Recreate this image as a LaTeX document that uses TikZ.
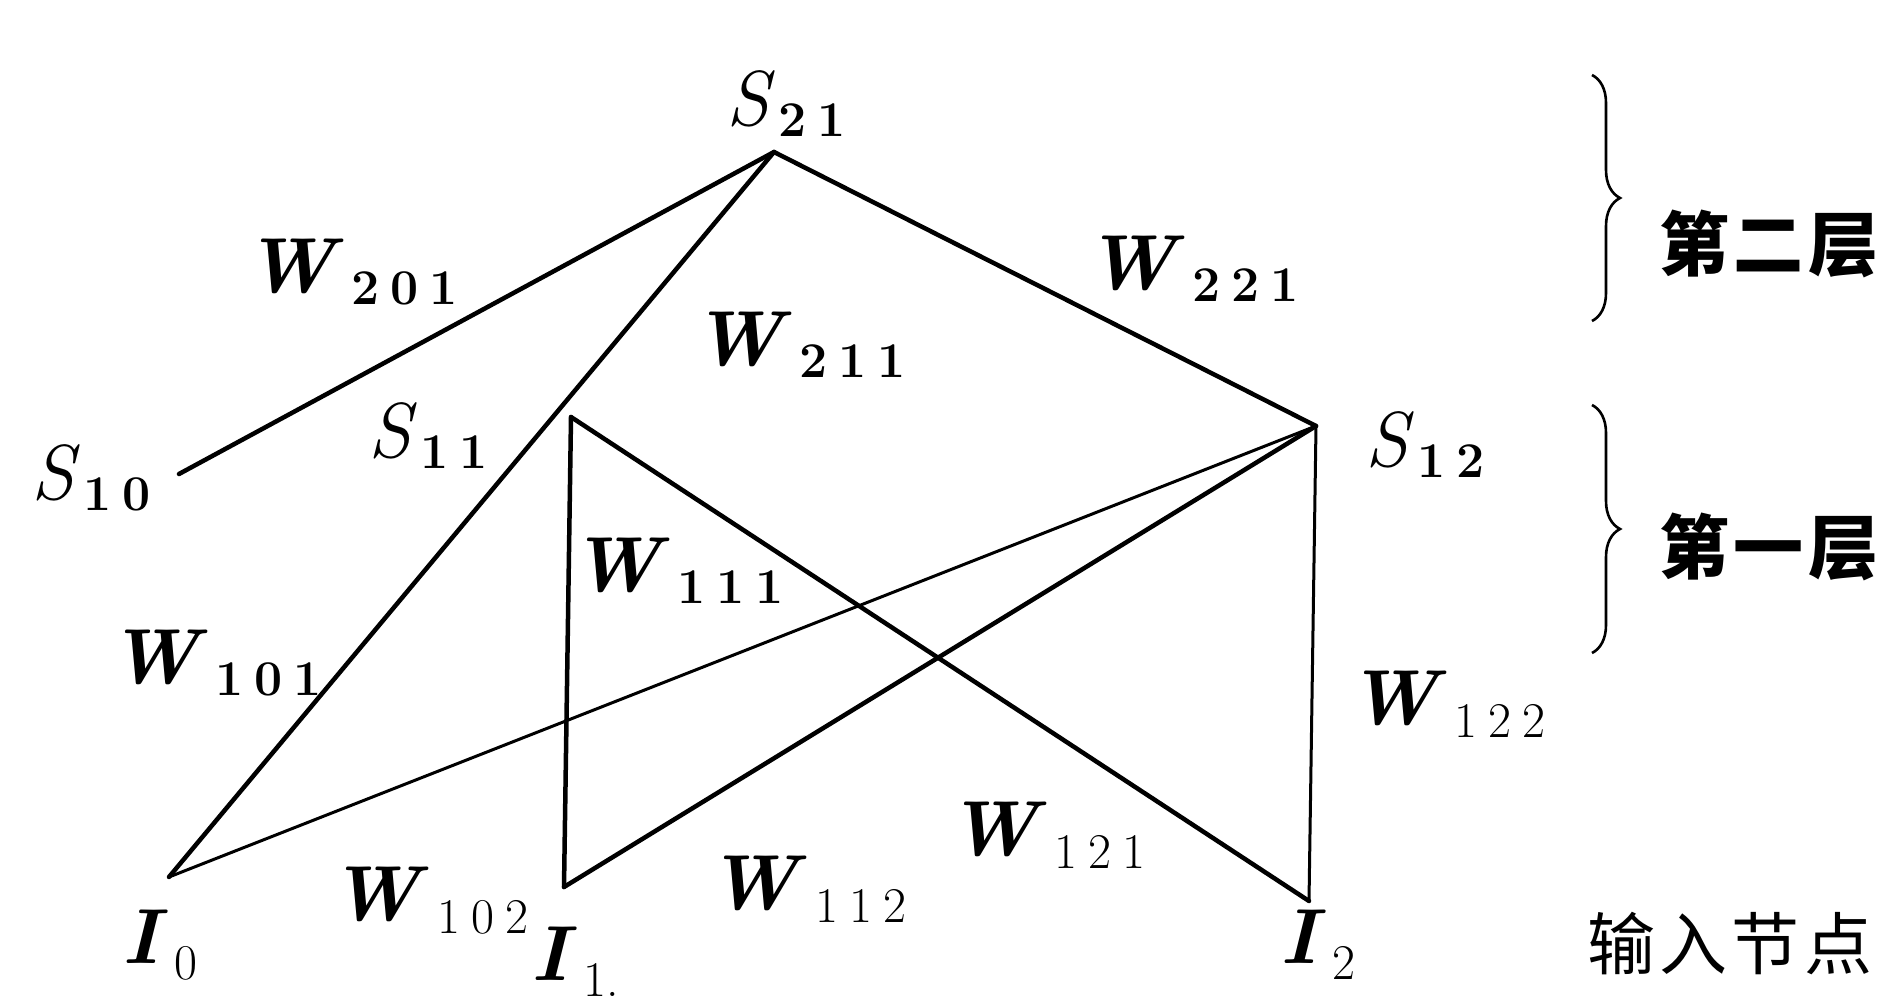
\documentclass[tikz,border=0pt]{standalone}
\usepackage{fontspec}
\newfontfamily\cjk[LetterSpace=6]{Noto Sans CJK SC}
\usetikzlibrary{decorations.pathreplacing}
\newcommand\dsp{\hspace{0.22em}}
\newcommand\wlabel[1]{\textbf{\textit{W}}\hspace{0.1em}\raisebox{-0.15em}{\fontsize{50}{50}\selectfont\bfseries #1}}
\newcommand\wlabelthin[1]{\textbf{\textit{W}}\hspace{0.1em}\raisebox{-0.17em}{\fontsize{50}{50}\selectfont #1}}
\newcommand\slabel[1]{\textit{S}\hspace{0.04em}\raisebox{-0.14em}{\fontsize{50}{50}\selectfont\bfseries #1}}
\newcommand\ilabel[1]{\textbf{\textit{I}}\hspace{0.08em}\raisebox{-0.2em}{\fontsize{50}{50}\selectfont #1}}
\begin{document}
\begin{tikzpicture}[x=1pt,y=-1pt]
\useasboundingbox[fill=white] (0,0) rectangle (1897,1008);
\tikzset{
  wire/.style={line width=4.5pt, line cap=round, line join=round},
  thinwire/.style={line width=3pt, line cap=round},
  lab/.style={inner sep=0pt, font=\fontsize{78}{80}\selectfont},
  cjklab/.style={inner sep=0pt, font=\fontsize{68}{70}\selectfont\cjk},
  bracestyle/.style={line width=2.6pt, decorate, decoration={brace, amplitude=28pt}},
}
% junction points
\coordinate (s21) at (774,152);
\coordinate (s10) at (179,474);
\coordinate (s11) at (571,417);
\coordinate (s12) at (1316,426);
\coordinate (i0) at (169,877);
\coordinate (i1) at (564,887);
\coordinate (i2) at (1309,901);
% connectors
\draw[wire] (s21) -- (s10);
\draw[wire] (s21) -- (i0);
\draw[wire] (s21) -- (s12);
\draw[wire] (s11) -- (i1);
\draw[wire] (s11) -- (i2);
\draw[thinwire] (s12) -- (i0);
\draw[wire] (s12) -- (i1);
\draw[thinwire] (s12) -- (i2);
% node labels
\node[lab] (ls21) at (786,104) {\slabel{2\dsp 1}};
\node[lab] (ls10) at (91,478) {\slabel{1\dsp 0}};
\node[lab] (ls11) at (428,436) {\slabel{1\dsp 1}};
\node[lab] (ls12) at (1425,445) {\slabel{1\dsp 2}};
\node[lab] (li0) at (160,945) {\ilabel{0}};
\node[lab] (li1) at (575,962) {\ilabel{1.}};
\node[lab] (li2) at (1318,945) {\ilabel{2}};
% weight labels
\node[lab] (w201) at (351,272) {\wlabel{2\dsp 0\dsp 1}};
\node[lab] (w211) at (799,345) {\wlabel{2\dsp 1\dsp 1}};
\node[lab] (w221) at (1192,269) {\wlabel{2\dsp 2\dsp 1}};
\node[lab] (w111) at (677,571) {\wlabel{1\dsp 1\dsp 1}};
\node[lab] (w101) at (215,663) {\wlabel{1\dsp 0\dsp 1}};
\node[lab] (w122) at (1446,704) {\wlabelthin{1\dsp 2\dsp 2}};
\node[lab] (w102) at (429,901) {\wlabelthin{1\dsp 0\dsp 2}};
\node[lab] (w112) at (807,889) {\wlabelthin{1\dsp 1\dsp 2}};
\node[lab] (w121) at (1046,835) {\wlabelthin{1\dsp 2\dsp 1}};
% braces and layer texts
\coordinate (b1t) at (1592,75);
\coordinate (b1b) at (1592,321);
\coordinate (b2t) at (1592,405);
\coordinate (b2b) at (1592,653);
\draw[bracestyle] (b1t) -- (b1b);
\draw[bracestyle] (b2t) -- (b2b);
\node[cjklab, font=\fontsize{70}{72}\selectfont\cjk\bfseries] (t2) at (1769,244) {第二层};
\node[cjklab, font=\fontsize{70}{72}\selectfont\cjk\bfseries] (t1) at (1769,547) {第一层};
\node[cjklab] (tin) at (1730,944) {输入节点};
\end{tikzpicture}
\end{document}
